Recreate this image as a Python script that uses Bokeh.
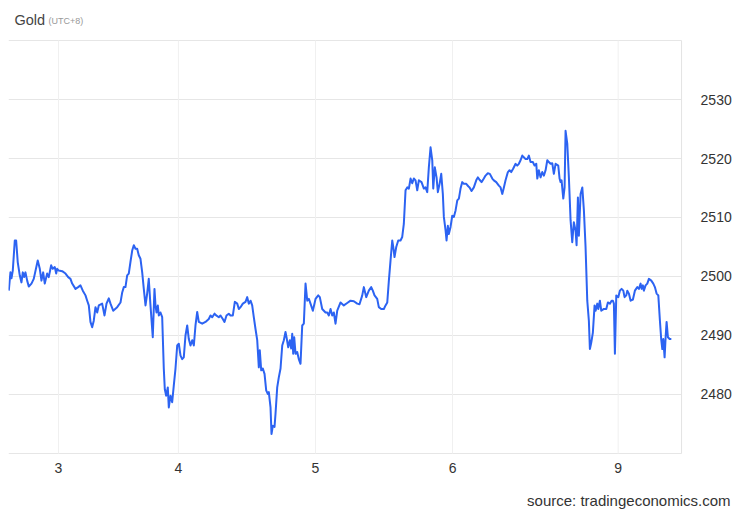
from bokeh.plotting import figure
from bokeh.models import Range1d, Label
from bokeh.core.properties import value
from bokeh.embed import file_html
from bokeh.resources import INLINE

# hours of trading time since the session of day "3" opened
hours = [-8.70, -8.41, -8.23, -8.00, -7.65, -7.41, -7.13, -6.78, -6.48, -6.25, -6.01, -5.78, -5.48, -5.20, -4.73, -4.33,
         -3.63, -3.27, -2.98, -2.68, -2.40, -1.98, -1.70, -1.28, -1.00, -0.65, -0.40, -0.23, 0.05, 0.65, 1.23, 1.70,
         2.10, 2.40, 2.98, 3.45, 3.85, 4.26, 4.73, 5.03, 5.31, 5.60, 5.90, 6.18, 6.48, 6.78, 7.06, 7.65, 8.06, 8.41,
         8.81, 9.11, 9.58, 10.28, 10.86, 11.16, 11.44, 11.73, 12.03, 12.31, 12.61, 12.91, 13.19, 13.49, 13.78, 14.06,
         14.36, 14.66, 14.94, 15.24, 15.53, 15.81, 16.11, 16.51, 16.81, 16.99, 17.16, 17.39, 17.57, 17.86, 18.16, 18.44,
         18.62, 18.86, 19.14, 19.32, 19.61, 19.91, 20.19, 20.49, 20.79, 21.07, 21.37, 21.66, 21.94, 22.24, 22.54, 22.82,
         23.12, 23.42, 23.70, 23.99, 24.29, 24.57, 25.17, 25.74, 26.32, 26.62, 26.92, 27.32, 27.62, 28.07, 28.37, 28.77,
         29.07, 29.42, 29.82, 30.12, 30.53, 30.88, 31.30, 31.58, 31.87, 32.28, 32.75, 33.05, 33.33, 33.63, 33.92, 34.20,
         34.50, 34.80, 35.08, 35.25, 35.50, 35.78, 36.08, 36.37, 36.65, 36.83, 37.13, 37.30, 37.53, 37.83, 38.00, 38.30,
         38.58, 38.88, 39.18, 39.46, 39.75, 39.93, 40.23, 40.51, 40.75, 40.93, 41.10, 41.28, 41.51, 41.80, 42.08, 42.38,
         42.68, 42.96, 43.26, 43.56, 43.84, 44.13, 44.54, 45.01, 45.48, 45.76, 46.18, 46.76, 47.06, 47.34, 47.64, 47.93,
         48.21, 48.51, 48.81, 49.39, 49.96, 50.56, 51.14, 51.72, 52.31, 52.71, 53.19, 53.47, 53.89, 54.34, 54.76, 55.04,
         55.34, 55.81, 56.09, 56.51, 56.97, 57.27, 57.57, 57.85, 58.14, 58.44, 58.62, 58.84, 59.14, 59.49, 59.89, 60.19,
         60.47, 60.77, 61.07, 61.35, 61.65, 61.94, 62.22, 62.52, 62.82, 63.10, 63.57, 63.98, 64.27, 64.57, 64.85, 65.15,
         65.45, 65.62, 65.90, 66.20, 66.43, 66.73, 67.02, 67.30, 67.48, 67.78, 67.95, 68.18, 68.35, 68.65, 68.95, 69.23,
         69.53, 69.83, 70.11, 70.40, 70.70, 70.98, 71.40, 71.75, 71.98, 72.33, 72.73, 73.15, 73.43, 73.73, 74.08, 74.48,
         74.78, 75.18, 75.53, 75.96, 76.23, 76.65, 77.11, 77.41, 77.71, 77.99, 78.28, 78.69, 78.98, 79.28, 79.63, 80.04,
         80.33, 80.61, 80.91, 81.21, 81.49, 81.79, 82.08, 82.36, 82.66, 83.06, 83.36, 83.66, 83.84, 84.11, 84.41, 84.71,
         84.99, 85.29, 85.59, 85.86, 86.16, 86.46, 86.74, 87.04, 87.51, 87.74, 87.92, 88.09, 88.39, 88.62, 88.79, 89.09,
         89.37, 89.67, 89.96, 90.24, 90.54, 90.72, 90.95, 91.12, 91.42, 91.72, 92.00, 92.29, 92.59, 92.87, 93.05, 93.29,
         93.57, 93.87, 94.05, 94.34, 94.52, 94.80, 95.04, 95.50, 95.92, 96.20, 96.55, 96.85, 97.08, 97.25, 97.43, 97.67,
         98.02, 98.30, 98.60, 98.90, 99.12, 99.42, 99.60, 99.88, 100.18, 100.58, 100.93, 101.35, 101.63, 101.93, 102.10,
         102.33, 102.50, 102.80, 103.10, 103.38, 103.80, 104.15, 104.43, 104.73, 105.03, 105.31, 105.55, 105.73, 105.90,
         106.13, 106.31, 106.48, 106.71, 107.01, 107.31]

price = [2497.6, 2500.7, 2499.7, 2501.0, 2506.1, 2506.1, 2502.4, 2500.2, 2499.0, 2500.7, 2499.9, 2500.7, 2499.3, 2498.3,
         2498.8, 2499.6, 2502.7, 2501.3, 2499.3, 2500.7, 2498.8, 2500.5, 2499.9, 2501.9, 2501.3, 2501.6, 2500.5, 2501.3,
         2501.0, 2500.9, 2500.5, 2499.9, 2499.6, 2498.8, 2497.9, 2498.2, 2498.5, 2497.6, 2496.8, 2495.9, 2495.1, 2492.3,
         2491.4, 2492.5, 2494.8, 2493.9, 2495.1, 2495.4, 2493.4, 2495.4, 2496.3, 2495.4, 2494.2, 2494.8, 2495.6, 2497.3,
         2498.2, 2498.2, 2500.2, 2500.5, 2502.5, 2504.4, 2505.3, 2504.7, 2504.7, 2503.6, 2503.0, 2500.7, 2497.9, 2495.1,
         2497.1, 2499.6, 2495.1, 2489.7, 2497.9, 2495.1, 2493.9, 2495.1, 2493.4, 2493.9, 2493.1, 2484.4, 2480.9, 2479.8,
         2481.2, 2477.8, 2479.8, 2478.7, 2481.5, 2484.4, 2488.3, 2488.6, 2486.6, 2486.0, 2486.3, 2490.0, 2491.7, 2489.4,
         2488.3, 2489.2, 2488.3, 2491.7, 2494.0, 2492.3, 2492.0, 2492.3, 2492.8, 2493.4, 2493.1, 2493.7, 2493.4, 2493.1,
         2493.4, 2492.8, 2492.3, 2493.4, 2493.7, 2493.4, 2493.4, 2495.7, 2495.4, 2494.5, 2494.8, 2495.4, 2495.7, 2496.5,
         2495.4, 2495.9, 2495.1, 2493.1, 2491.1, 2489.2, 2484.6, 2487.5, 2484.1, 2484.4, 2483.5, 2480.7, 2480.1, 2480.4,
         2477.8, 2473.3, 2474.7, 2474.5, 2476.7, 2481.2, 2482.9, 2484.4, 2488.3, 2489.2, 2490.6, 2489.7, 2488.0, 2489.2,
         2487.8, 2490.3, 2486.9, 2489.7, 2486.9, 2487.2, 2486.0, 2485.2, 2491.7, 2492.0, 2498.8, 2495.9, 2496.2, 2495.4,
         2494.2, 2496.2, 2496.8, 2496.5, 2494.5, 2493.9, 2493.9, 2493.4, 2494.5, 2493.4, 2493.9, 2492.0, 2494.2, 2495.6,
         2495.1, 2495.5, 2495.9, 2495.8, 2495.4, 2495.3, 2496.8, 2498.2, 2496.5, 2497.6, 2498.2, 2497.6, 2496.8, 2496.2,
         2494.8, 2494.5, 2494.5, 2495.1, 2495.6, 2499.3, 2502.7, 2506.1, 2505.0, 2503.3, 2505.0, 2506.1, 2506.1, 2506.7,
         2508.9, 2514.6, 2515.1, 2514.9, 2516.6, 2515.8, 2516.6, 2516.3, 2514.6, 2516.3, 2516.0, 2514.9, 2515.1, 2514.3,
         2518.5, 2521.9, 2519.7, 2514.9, 2518.5, 2516.8, 2514.3, 2515.7, 2517.4, 2514.0, 2510.1, 2507.8, 2506.1, 2508.6,
         2507.2, 2508.4, 2510.3, 2510.1, 2511.2, 2512.9, 2513.2, 2514.9, 2516.0, 2515.7, 2515.7, 2515.3, 2515.1, 2514.5,
         2515.1, 2516.3, 2516.8, 2516.4, 2516.0, 2516.6, 2517.1, 2517.5, 2517.4, 2516.6, 2516.3, 2516.0, 2515.4, 2515.1,
         2514.0, 2515.1, 2516.3, 2517.7, 2518.0, 2517.7, 2518.3, 2519.1, 2518.8, 2519.1, 2519.7, 2520.5, 2520.2, 2519.9,
         2519.9, 2520.5, 2519.4, 2519.4, 2518.8, 2519.1, 2516.6, 2518.0, 2516.8, 2517.7, 2517.1, 2518.0, 2519.7, 2519.4,
         2519.1, 2519.2, 2517.4, 2519.1, 2518.8, 2516.6, 2516.0, 2516.3, 2513.2, 2515.1, 2524.7, 2522.5, 2516.8, 2509.5,
         2505.8, 2509.2, 2507.8, 2505.3, 2513.4, 2506.9, 2514.0, 2515.1, 2511.2, 2505.0, 2495.9, 2492.5, 2487.7, 2488.8,
         2490.5, 2495.1, 2494.2, 2495.4, 2494.5, 2495.9, 2494.2, 2494.5, 2494.5, 2495.6, 2495.4, 2495.9, 2495.9, 2495.4,
         2486.9, 2496.8, 2496.5, 2497.6, 2497.9, 2497.6, 2496.5, 2496.8, 2497.6, 2497.1, 2495.9, 2496.1, 2497.6, 2498.2,
         2497.9, 2498.8, 2497.9, 2498.5, 2497.6, 2498.5, 2498.8, 2499.6, 2499.3, 2498.8, 2498.2, 2497.1, 2496.8, 2492.5,
         2489.2, 2487.7, 2489.4, 2486.3, 2489.7, 2492.3, 2489.7, 2489.4, 2489.4]

day_ticks = [0, 21, 45, 69, 98]
day_labels = ["3", "4", "5", "6", "9"]
price_ticks = [2480, 2490, 2500, 2510, 2520, 2530]
price_labels = ["2480", "2490", "2500", "2510", "2520", "2530"]
grid_levels = [2470, 2480, 2490, 2500, 2510, 2520, 2530, 2540]

FONT = "Liberation Sans"
X_LO, X_BOX = -8.75, 109.1          # time span of the chart box
Y_LO, Y_HI = 2470, 2540             # price span of the chart box
# the frame also holds the header, footer and axis label rows/columns
X_MAX = 119.42
Y_MIN, Y_MAX = 2459.83, 2546.78
n_days = len(day_ticks)
n_lv = len(grid_levels)
n_pt = len(price_ticks)

p = figure(width=740, height=513, output_backend="svg", toolbar_location=None,
           x_range=Range1d(X_LO, X_MAX), y_range=Range1d(Y_MIN, Y_MAX),
           x_axis_location=None, y_axis_location=None,
           min_border_left=8, min_border_right=0, min_border_top=0, min_border_bottom=0)
p.outline_line_color = None
p.background_fill_color = "white"
p.border_fill_color = "white"
p.xgrid.visible = False
p.ygrid.visible = False

# horizontal grid (incl. top and bottom edge of the chart box)
p.segment(x0=[X_LO] * n_lv, y0=grid_levels, x1=[X_BOX] * n_lv, y1=grid_levels,
          line_color="#e6e6e6", line_width=1, level="underlay")
# vertical grid at day boundaries
p.segment(x0=day_ticks, y0=[Y_LO] * n_days, x1=day_ticks, y1=[Y_HI] * n_days,
          line_color="#f0f0f0", line_width=1, level="underlay")
# right edge of the chart box
p.segment(x0=[X_BOX], y0=[Y_LO], x1=[X_BOX], y1=[Y_HI],
          line_color="#e3e3e3", line_width=1, level="underlay")

# price labels to the right of the chart box
p.text(x=[X_BOX + 3.33] * n_pt, y=price_ticks, text=price_labels,
       text_font=value(FONT), text_font_size="14px", text_color="#333333",
       text_align="left", text_baseline="middle")
# day labels under the chart box
p.text(x=day_ticks, y=[Y_LO - 2.4] * n_days, text=day_labels,
       text_font=value(FONT), text_font_size="14px", text_color="#333333",
       text_align="center", text_baseline="middle")

p.line(hours, price, line_color="#2c63f2", line_width=2, line_join="round")

# header and footer (screen units are measured from the frame's bottom-left corner)
p.add_layout(Label(x=6, y=494, x_units="screen", y_units="screen", text="Gold",
                   text_font=FONT, text_font_size="14.5px", text_color="#444444",
                   text_baseline="middle"))
p.add_layout(Label(x=40, y=493, x_units="screen", y_units="screen", text="(UTC+8)",
                   text_font=FONT, text_font_size="9px", text_color="#999999",
                   text_baseline="middle"))
p.add_layout(Label(x=722, y=13, x_units="screen", y_units="screen",
                   text="source: tradingeconomics.com",
                   text_font=FONT, text_font_size="15px", text_color="#333333",
                   text_align="right", text_baseline="middle"))

open("out.html", "w").write(file_html(p, INLINE))
